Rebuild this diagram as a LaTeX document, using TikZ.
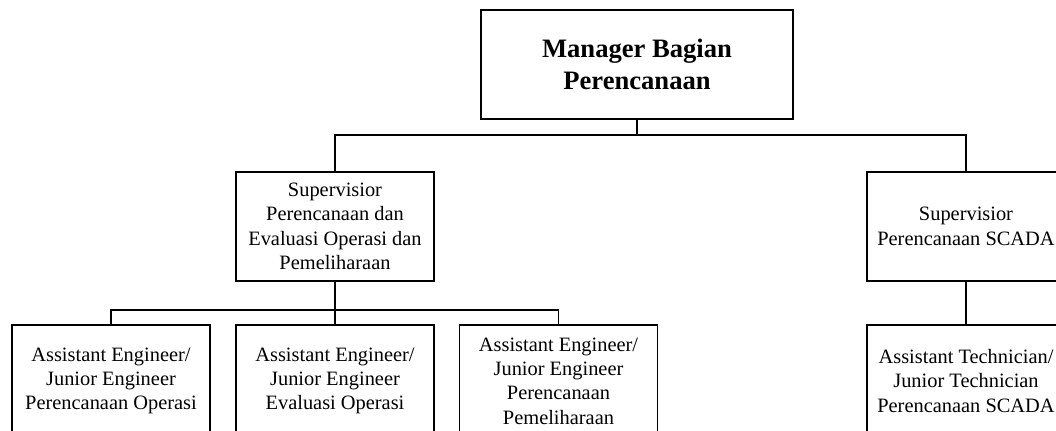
\documentclass[tikz,border=0pt]{standalone}
\usepackage{fontspec}
\setmainfont{Liberation Serif}
\begin{document}
\begin{tikzpicture}[x=0.5pt, y=-0.5pt, line width=0.6pt,
    box/.style={draw, align=center, inner sep=0pt, minimum width=99pt,
      minimum height=54.5pt, font=\fontsize{10.2}{12.2}\selectfont},
    topbox/.style={box, minimum width=156pt, font=\fontsize{13.3}{16}\selectfont\bfseries},
    lowbox/.style={box, minimum height=56pt}]
      \useasboundingbox (0,0) rectangle (1056,430);
      \clip (0,0) rectangle (1056,430);

      \node[topbox] (m1) at (637,64.5){Manager Bagian\\Perencanaan};

      \node[box] (s1) at (335,226.5){Supervisior\\Perencanaan dan\\Evaluasi Operasi dan\\Pemeliharaan};
      \node[box] (s2) at (966,226.5){Supervisior\\Perencanaan SCADA};

      \node[lowbox] (e1) at (111,381){Assistant Engineer/\\Junior Engineer\\Perencanaan Operasi};
      \node[lowbox] (e2) at (335,381){Assistant Engineer/\\Junior Engineer\\Evaluasi Operasi};
      \node[lowbox] (e3) at (558.5,381){Assistant Engineer/\\Junior Engineer\\Perencanaan\\Pemeliharaan};
      \node[lowbox] (t1) at (966,381){Assistant Technician/\\Junior Technician\\Perencanaan SCADA};

      % bend points of the tree
      \coordinate (j1) at (637,135);
      \coordinate (j2) at (335,310);

      \draw (m1) -- (j1);
      \draw (s1.north) |- (j1) -| (s2.north);

      \draw (s1) -- (j2);
      \draw (e1.north) |- (j2) -| (e3.north);
      \draw (j2) -- (e2);

      \draw (s2) -- (t1);

    \end{tikzpicture}
\end{document}
